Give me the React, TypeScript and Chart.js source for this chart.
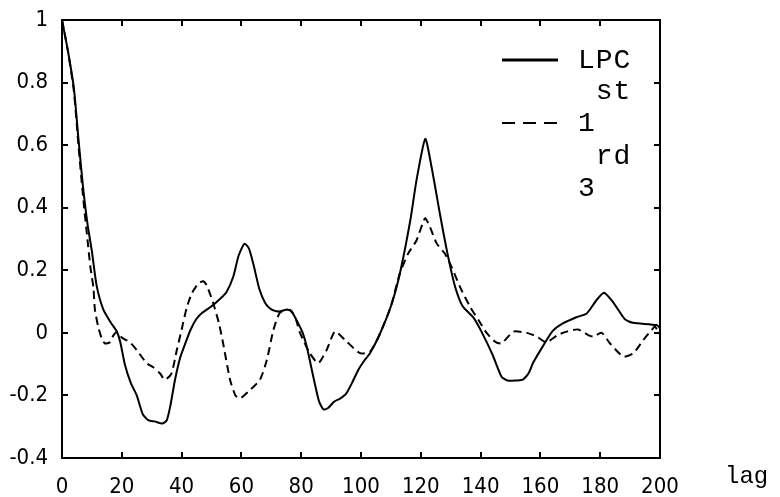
import React, { useEffect, useRef } from "react";
import { Chart, registerables } from "chart.js";

Chart.register(...registerables);

// ---- data (lag, autocorrelation) ----
const lpcLags = [0, 2, 4, 5.5, 7, 8.5, 10, 11.6, 13.8, 16.5, 18.3, 19.5, 21, 23, 25, 27, 29, 31, 33.5, 35, 36.2, 37.8, 39.5, 41, 43, 45, 47, 50, 53, 55, 57.3, 59, 61, 62.5, 64, 66, 68, 70, 72.5, 75.5, 77, 78.5, 80.5, 82, 84.5, 86, 87.5, 89, 91, 93, 95, 97, 99, 101, 103, 106, 110, 113, 116.5, 118.6, 121.5, 123.6, 126.4, 129, 131.4, 134, 137.5, 140.5, 144, 147, 149, 154, 156, 157.6, 161, 164, 167.5, 172, 175.5, 178.8, 181.3, 184.4, 188.3, 191, 198.9, 200];
const lpcValues = [1.0, 0.9, 0.78, 0.62, 0.47, 0.35, 0.26, 0.15, 0.075, 0.03, 0.005, -0.03, -0.1, -0.16, -0.2, -0.26, -0.28, -0.283, -0.29, -0.28, -0.235, -0.15, -0.08, -0.04, 0.01, 0.045, 0.065, 0.085, 0.11, 0.13, 0.18, 0.245, 0.285, 0.27, 0.22, 0.14, 0.095, 0.075, 0.068, 0.075, 0.065, 0.04, 0.0, -0.05, -0.16, -0.22, -0.245, -0.24, -0.22, -0.21, -0.195, -0.16, -0.12, -0.09, -0.065, -0.01, 0.085, 0.19, 0.36, 0.49, 0.62, 0.53, 0.38, 0.25, 0.15, 0.085, 0.05, 0.0, -0.07, -0.14, -0.152, -0.15, -0.13, -0.095, -0.04, 0.005, 0.03, 0.05, 0.062, 0.105, 0.128, 0.097, 0.043, 0.032, 0.025, 0.015];

const dashLags = [0, 2, 4, 5.5, 7, 8.5, 9.5, 10.5, 11, 12.1, 13.3, 14.4, 16, 17.2, 18.3, 20, 22.7, 25, 28.3, 30.5, 32.8, 34.4, 36.6, 38.4, 40, 41.7, 43.4, 45.6, 47.3, 48.5, 50.6, 52.5, 53.9, 56.2, 58, 59.5, 62.3, 66.2, 68.5, 70.7, 72.9, 76.3, 78, 79.6, 82.9, 85.7, 88.5, 91.3, 95.2, 99.7, 103, 106, 110, 113, 115.8, 118.6, 121.4, 123, 125.3, 128, 130.3, 133.1, 136.5, 139.3, 142, 144.8, 147, 151, 155.4, 158.8, 161.9, 165.8, 168.8, 172.6, 176, 177.7, 180.5, 183.3, 187.7, 191.1, 194.4, 197.2, 198.3, 200];
const dashValues = [1.0, 0.9, 0.77, 0.6, 0.44, 0.3, 0.21, 0.145, 0.075, 0.02, -0.018, -0.034, -0.03, -0.008, 0.003, -0.015, -0.03, -0.055, -0.097, -0.11, -0.13, -0.15, -0.13, -0.055, 0.01, 0.08, 0.126, 0.158, 0.165, 0.15, 0.094, 0.03, -0.034, -0.15, -0.2, -0.21, -0.188, -0.15, -0.087, 0.009, 0.065, 0.073, 0.05, 0.0, -0.065, -0.097, -0.055, 0.004, -0.028, -0.065, -0.06, -0.01, 0.085, 0.19, 0.254, 0.296, 0.366, 0.34, 0.286, 0.254, 0.211, 0.147, 0.083, 0.041, 0.0, -0.028, -0.034, 0.004, 0.0, -0.012, -0.03, -0.007, 0.004, 0.011, -0.007, -0.012, 0.0, -0.034, -0.076, -0.065, -0.023, 0.009, 0.02, -0.005];

const xTickValues = [0, 20, 40, 60, 80, 100, 120, 140, 160, 180, 200];
const xTickLabels = ["0", "20", "40", "60", "80", "100", "120", "140", "160", "180", "200"];
const yTickValues = [-0.4, -0.2, 0, 0.2, 0.4, 0.6, 0.8, 1];
const yTickLabels = ["-0.4", "-0.2", "0", "0.2", "0.4", "0.6", "0.8", "1"];

const legendSolidLines = ["LPC", " st"];
const legendDashLines = ["1", " rd", "3"];
const xTitle = "lag";

const tickFont = "'Liberation Sans Narrow', 'DejaVu Sans Condensed', 'Liberation Sans', sans-serif";
const monoFont = "'Liberation Mono', 'DejaVu Sans Mono', monospace";

const framePlugin = {
  id: "frame",
  afterDraw(chart: any) {
    const { ctx, chartArea: a, scales } = chart;
    const xs = scales.x;
    const ys = scales.y;
    ctx.save();
    ctx.strokeStyle = "#000";
    ctx.lineWidth = 2;
    ctx.setLineDash([]);
    ctx.strokeRect(a.left, a.top, a.right - a.left, a.bottom - a.top);
    const tl = 6;
    ctx.beginPath();
    xTickValues.forEach((v) => {
      const px = Math.round(xs.getPixelForValue(v));
      ctx.moveTo(px, a.bottom);
      ctx.lineTo(px, a.bottom - tl);
      ctx.moveTo(px, a.top);
      ctx.lineTo(px, a.top + tl);
    });
    yTickValues.forEach((v) => {
      const py = Math.round(ys.getPixelForValue(v));
      ctx.moveTo(a.left, py);
      ctx.lineTo(a.left + tl, py);
      ctx.moveTo(a.right, py);
      ctx.lineTo(a.right - tl, py);
    });
    ctx.stroke();

    // legend
    const lx0 = 502;
    const lx1 = 558;
    const tx = 578;
    ctx.lineWidth = 3;
    ctx.beginPath();
    ctx.moveTo(lx0, 60);
    ctx.lineTo(lx1, 60);
    ctx.stroke();
    ctx.lineWidth = 2;
    ctx.setLineDash([13, 8]);
    ctx.beginPath();
    ctx.moveTo(lx0, 123);
    ctx.lineTo(lx1, 123);
    ctx.stroke();
    ctx.setLineDash([]);
    ctx.fillStyle = "#000";
    ctx.font = `28px ${monoFont}`;
    ctx.textBaseline = "alphabetic";
    ctx.textAlign = "left";
    try { (ctx as any).letterSpacing = "1px"; } catch (e) {}
    const baseSolid = [68, 99];
    legendSolidLines.forEach((t, i) => ctx.fillText(t, tx, baseSolid[i]));
    const baseDash = [131, 164, 196];
    legendDashLines.forEach((t, i) => ctx.fillText(t, tx, baseDash[i]));

    ctx.font = `24px ${monoFont}`;
    try { (ctx as any).letterSpacing = "0px"; } catch (e) {}
    ctx.fillText(xTitle, 725, 483);
    ctx.restore();
  },
};

export default function App() {
  const ref = useRef<HTMLCanvasElement>(null);
  useEffect(() => {
    if (!ref.current) return;
    const chart = new Chart(ref.current, {
      type: "line",
      data: {
        datasets: [
          {
            label: "LPC",
            data: lpcLags.map((x, i) => ({ x, y: lpcValues[i] })),
            borderColor: "#000",
            borderWidth: 2,
            pointRadius: 0,
            tension: 0.2,
            fill: false,
          },
          {
            label: "3rd",
            data: dashLags.map((x, i) => ({ x, y: dashValues[i] })),
            borderColor: "#000",
            borderWidth: 2,
            borderDash: [8, 5],
            pointRadius: 0,
            tension: 0.2,
            fill: false,
          },
        ],
      },
      options: {
        responsive: false,
        animation: false,
        devicePixelRatio: 1,
        layout: { padding: { top: 20, right: 120, left: 0, bottom: 0 } },
        plugins: { legend: { display: false }, tooltip: { enabled: false } },
        scales: {
          x: {
            type: "linear",
            min: 0,
            max: 200,
            grid: { display: false },
            border: { display: false },
            afterBuildTicks: (s: any) => {
              s.ticks = xTickValues.map((v) => ({ value: v }));
            },
            afterFit: (s: any) => {
              s.height = 39;
            },
            ticks: {
              color: "#000",
              padding: 8,
              maxRotation: 0,
              autoSkip: false,
              font: { family: tickFont, size: 22 },
              callback: (_v: any, i: number) => xTickLabels[i],
            },
          },
          y: {
            type: "linear",
            min: -0.4,
            max: 1,
            grid: { display: false },
            border: { display: false },
            afterBuildTicks: (s: any) => {
              s.ticks = yTickValues.map((v) => ({ value: v }));
            },
            afterFit: (s: any) => {
              s.width = 62;
            },
            ticks: {
              color: "#000",
              padding: 6,
              autoSkip: false,
              font: { family: tickFont, size: 22 },
              callback: (_v: any, i: number) => yTickLabels[i],
            },
          },
        },
      },
      plugins: [framePlugin],
    } as any);
    return () => chart.destroy();
  }, []);
  return (
    <div style={{ position: "absolute", left: 0, top: 0, width: 780, height: 497, background: "#fff" }}>
      <canvas ref={ref} width={780} height={497} style={{ display: "block" }} />
    </div>
  );
}
